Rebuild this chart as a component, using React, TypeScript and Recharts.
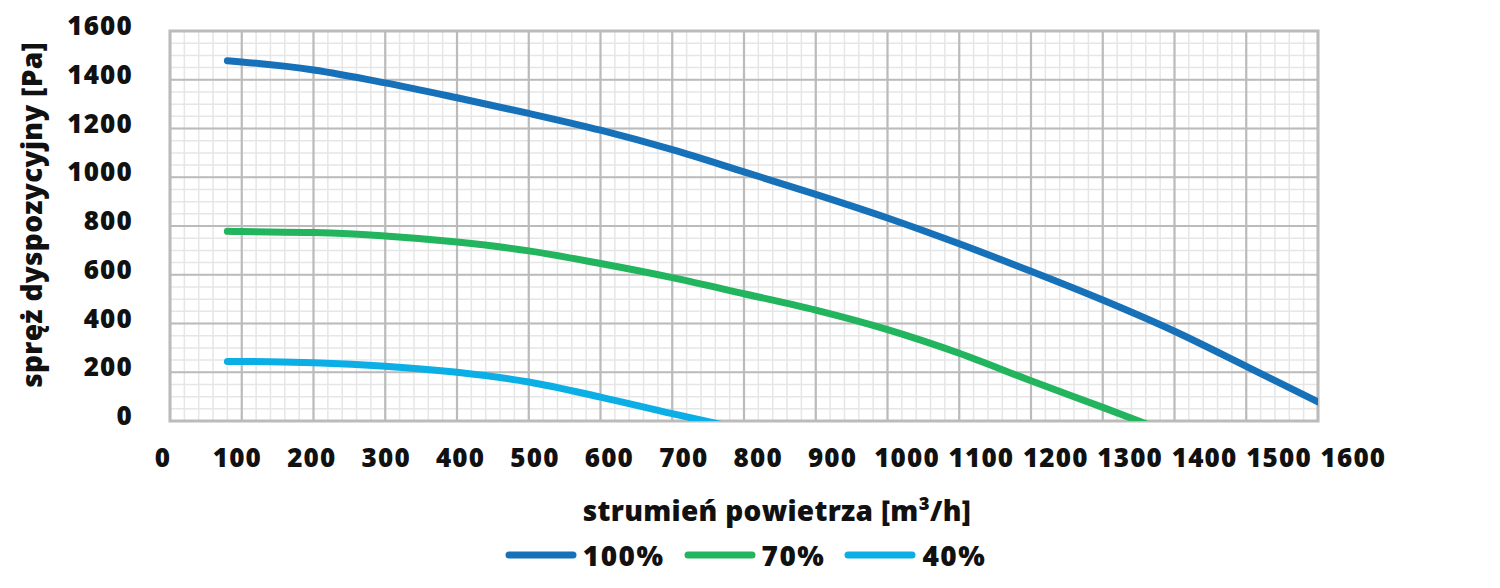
import { LineChart, Line, XAxis, YAxis, CartesianGrid, ReferenceArea, Legend, Label } from 'recharts';

// flow [m3/h] and available pressure [Pa]
// (the 70% and 40% curves run slightly past 0 and are clipped by the plot edge, as in the original)
const flow100 = [80, 100, 200, 300, 400, 500, 600, 700, 800, 900, 1000, 1100, 1200, 1300, 1400, 1500, 1600];
const press100 = [1478, 1473, 1440, 1387, 1326, 1262, 1193, 1113, 1022, 930, 833, 727, 614, 496, 368, 224, 78];

const flow70 = [80, 100, 200, 300, 400, 500, 600, 700, 800, 900, 1000, 1100, 1200, 1300, 1400];
const press70 = [778, 777, 773, 759, 734, 698, 646, 588, 522, 455, 375, 278, 165, 56, -56];

const flow40 = [80, 100, 200, 300, 400, 500, 600, 700, 780];
const press40 = [244, 244, 239, 225, 200, 160, 98, 30, -22];

const xTicks = [0, 100, 200, 300, 400, 500, 600, 700, 800, 900, 1000, 1100, 1200, 1300, 1400, 1500, 1600];
const yTicks = [0, 200, 400, 600, 800, 1000, 1200, 1400, 1600];
const minorX = Array.from({ length: 81 }, (_, i) => i * 20);
const minorY = Array.from({ length: 33 }, (_, i) => i * 50);

const toPoints = (q: number[], p: number[]) => q.map((v, i) => ({ q: v, p: p[i] }));

const series = [
  { name: '100%', color: '#1771B9', data: toPoints(flow100, press100) },
  { name: '70%', color: '#23B45E', data: toPoints(flow70, press70) },
  { name: '40%', color: '#0BAFE6', data: toPoints(flow40, press40) },
];

const FONT = "'Open Sans', sans-serif";
const textStyle = { fontFamily: FONT, fontWeight: 800, fontSize: 26, letterSpacing: 1.2, fill: '#111' };

const XTick = ({ x, y, payload }: any) => (
  <text x={x} y={y} dx={-7 + payload.value * 0.0265} dy={36} textAnchor="middle" dominantBaseline="central" style={textStyle}>
    {payload.value}
  </text>
);

const YTick = ({ x, y, payload }: any) => (
  <text x={x} y={y} dy={-6} textAnchor="end" dominantBaseline="central" style={textStyle}>
    {payload.value}
  </text>
);

const XTitle = ({ viewBox }: any) => (
  <text x={viewBox.x + viewBox.width / 2 + 33} y={viewBox.y + 100} textAnchor="middle" style={{ ...textStyle, fontSize: 28, letterSpacing: 0.3 }}>
    strumień powietrza [m³/h]
  </text>
);

const YTitle = ({ viewBox }: any) => {
  const cx = viewBox.x + 1;
  const cy = viewBox.y + viewBox.height / 2 - 11;
  return (
    <text x={cx} y={cy} transform={`rotate(-90, ${cx}, ${cy})`} textAnchor="middle" dominantBaseline="central" style={{ ...textStyle, fontSize: 28, letterSpacing: 0.3 }}>
      spręż dyspozycyjny [Pa]
    </text>
  );
};

const LegendContent = () => (
  <div style={{ display: 'flex', justifyContent: 'center', alignItems: 'center', fontFamily: FONT }}>
    {series.map((s) => (
      <div key={s.name} style={{ display: 'flex', alignItems: 'center', marginRight: 18 }}>
        <svg width={74} height={10} style={{ marginRight: 5 }}>
          <line x1={5} y1={5} x2={69} y2={5} stroke={s.color} strokeWidth={7} strokeLinecap="round" />
        </svg>
        <span style={{ fontWeight: 800, fontSize: 28, letterSpacing: 1.5, color: '#111' }}>{s.name}</span>
      </div>
    ))}
  </div>
);

export default function App() {
  return (
    <div style={{ width: 1492, height: 580, fontFamily: FONT }}>
      <LineChart width={1492} height={580} margin={{ top: 23, right: 182, bottom: 37, left: 22 }}>
        <CartesianGrid verticalValues={minorX} horizontalValues={minorY} stroke="#E6E6E6" strokeWidth={1.5} />
        <CartesianGrid verticalValues={xTicks} horizontalValues={yTicks} stroke="#BBBBBB" strokeWidth={2.2} />
        <XAxis
          type="number"
          dataKey="q"
          domain={[0, 1600]}
          ticks={xTicks}
          interval={0}
          allowDataOverflow
          axisLine={false}
          tickLine={false}
          tickSize={0}
          tickMargin={0}
          height={130}
          tick={<XTick />}
        >
          <Label content={<XTitle />} />
        </XAxis>
        <YAxis
          type="number"
          dataKey="p"
          domain={[0, 1600]}
          ticks={yTicks}
          interval={0}
          allowDataOverflow
          axisLine={false}
          tickLine={false}
          tickSize={0}
          tickMargin={37}
          width={140}
          tick={<YTick />}
        >
          <Label content={<YTitle />} />
        </YAxis>
        <ReferenceArea x1={0} x2={1600} y1={0} y2={1600} fill="none" stroke="#BBBBBB" strokeWidth={3} fillOpacity={0} />
        {series.map((s) => (
          <Line
            key={s.name}
            data={s.data}
            dataKey="p"
            name={s.name}
            type="monotone"
            stroke={s.color}
            strokeWidth={7}
            strokeLinecap="round"
            dot={false}
            activeDot={false}
            isAnimationActive={false}
          />
        ))}
        <Legend
          layout="horizontal"
          verticalAlign="middle"
          align="center"
          wrapperStyle={{ top: 528, left: 0, width: 1492 }}
          content={<LegendContent />}
        />
      </LineChart>
    </div>
  );
}
